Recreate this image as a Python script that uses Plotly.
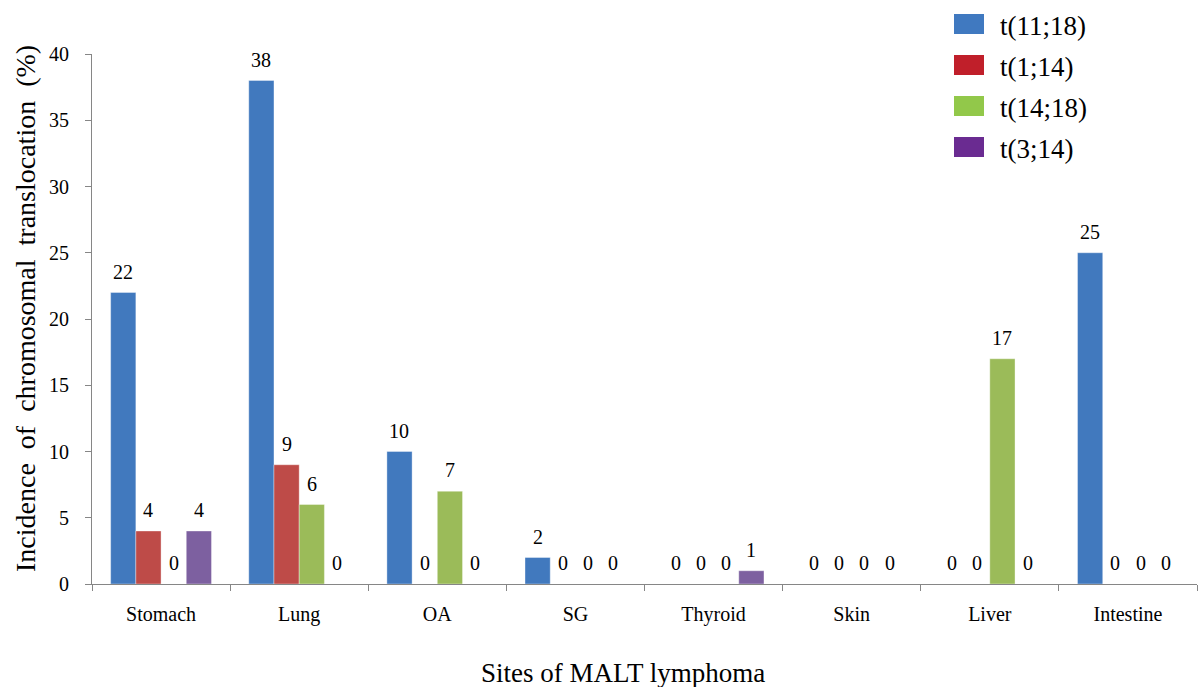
import plotly.graph_objects as go

# Sites of MALT lymphoma and incidence (%) of each chromosomal translocation
sites = ["Stomach", "Lung", "OA", "SG", "Thyroid", "Skin", "Liver", "Intestine"]
t11_18 = [22, 38, 10, 2, 0, 0, 0, 25]
t1_14 = [4, 9, 0, 0, 0, 0, 0, 0]
t14_18 = [0, 6, 7, 0, 0, 0, 17, 0]
t3_14 = [4, 0, 0, 0, 1, 0, 0, 0]
series_names = ["t(11;18)", "t(1;14)", "t(14;18)", "t(3;14)"]
y_ticks = [0, 5, 10, 15, 20, 25, 30, 35, 40]

series_values = [t11_18, t1_14, t14_18, t3_14]
bar_colors = ["#4179BE", "#BE4B48", "#9BBB59", "#7D60A0"]
key_colors = ["#4079C0", "#C01F2A", "#92C84A", "#6A2B91"]

FONT = "Liberation Serif, 'Times New Roman', Times, serif"
W, H = 1198, 687
ML, MR, MT, MB = 92, 1, 54, 103
PW, PH = W - ML - MR, H - MT - MB
BARGAP = 0.27
bar_px = PW / len(sites) * (1 - BARGAP) / len(series_names)


def px_x(x):
    return (x - ML) / PW


def px_y(y):
    return (H - MB - y) / PH


fig = go.Figure()
for name, vals, col in zip(series_names, series_values, bar_colors):
    fig.add_trace(go.Bar(
        x=sites, y=vals, name=name,
        marker=dict(color=col, line=dict(width=0.8, color="rgba(255,255,255,0.45)")),
        showlegend=False, hoverinfo="x+y+name",
    ))

annotations = []
# value labels above every bar
for i, vals in enumerate(series_values):
    for site, v in zip(sites, vals):
        annotations.append(dict(
            x=site, y=v, xref="x", yref="y", text=str(v), showarrow=False,
            xshift=(i - 1.5) * bar_px, yshift=21, yanchor="middle",
            font=dict(family=FONT, size=20, color="#000000"),
        ))

# key in the upper right
shapes = []
for k, (name, col) in enumerate(zip(series_names, key_colors)):
    top = 14 + k * 41
    shapes.append(dict(
        type="rect", xref="paper", yref="paper",
        x0=px_x(954), x1=px_x(984), y0=px_y(top + 20), y1=px_y(top),
        fillcolor=col, line=dict(width=0),
    ))
    annotations.append(dict(
        x=px_x(998), y=px_y(top + 12), xref="paper", yref="paper",
        text=name, showarrow=False, xanchor="left", yanchor="middle",
        font=dict(family=FONT, size=27, color="#000000"),
    ))

# axis titles
annotations.append(dict(
    x=px_x(623), y=px_y(673), xref="paper", yref="paper",
    text="Sites of MALT lymphoma", showarrow=False,
    xanchor="center", yanchor="middle",
    font=dict(family=FONT, size=27, color="#000000"),
))
gap = "&nbsp;" * 2
annotations.append(dict(
    x=px_x(25), y=px_y(309), xref="paper", yref="paper",
    text=gap.join(["Incidence", "of", "chromosomal", "translocation", "(%)"]),
    showarrow=False, textangle=-90, xanchor="center", yanchor="middle",
    font=dict(family=FONT, size=28, color="#000000"),
))

fig.update_layout(
    width=W, height=H,
    margin=dict(l=ML, r=MR, t=MT, b=MB, pad=0),
    paper_bgcolor="white", plot_bgcolor="white",
    barmode="group", bargap=BARGAP, bargroupgap=0,
    font=dict(family=FONT, color="#000000"),
    shapes=shapes, annotations=annotations,
    xaxis=dict(
        type="category", categoryorder="array", categoryarray=sites,
        tickson="boundaries", ticks="outside", ticklen=6, tickcolor="#868686",
        showline=True, linecolor="#868686", linewidth=1,
        showgrid=False, zeroline=False,
        tickfont=dict(family=FONT, size=20, color="#000000"),
        ticklabelstandoff=12,
    ),
    yaxis=dict(
        range=[0, 40], tickvals=y_ticks, ticktext=[str(t) for t in y_ticks],
        ticks="outside", ticklen=6, tickcolor="#868686",
        showline=True, linecolor="#868686", linewidth=1,
        showgrid=False, zeroline=False,
        tickfont=dict(family=FONT, size=20, color="#000000"),
        ticklabelstandoff=12,
    ),
)

fig.write_html("out.html")
